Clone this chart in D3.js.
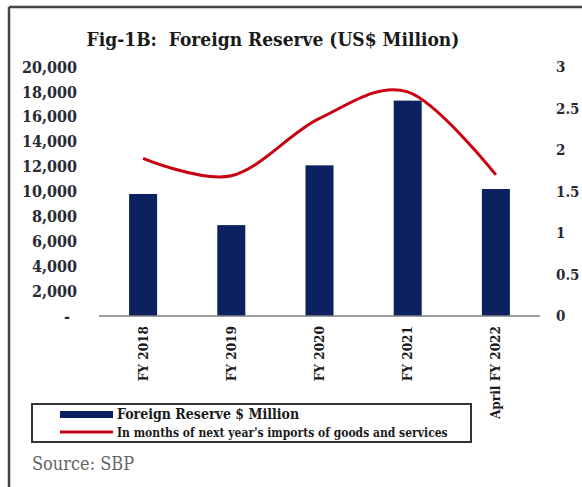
<html>
<head>
    <meta charset="utf-8">
    <script src="https://d3js.org/d3.v7.min.js"></script>
    <title>Fig-1B</title>
    <style>
        body { margin: 0; background: #fff; }
        text { font-family: "DejaVu Serif Condensed", "DejaVu Serif", serif; white-space: pre; }
    </style>
</head>
<body>
    <svg id="chart" width="582" height="487"></svg>
    <script>
        // data
        const years = ["FY 2018", "FY 2019", "FY 2020", "FY 2021", "April FY 2022"];
        const reserve = [9800, 7300, 12100, 17300, 10200];     // US$ million
        const months = [1.90, 1.69, 2.38, 2.70, 1.70];          // months of imports
        const leftTicks = [0, 2000, 4000, 6000, 8000, 10000, 12000, 14000, 16000, 18000, 20000];
        const rightTicks = [0, 0.5, 1, 1.5, 2, 2.5, 3];

        const svg = d3.select("#chart");

        // frame
        svg.append("line").attr("x1", 9).attr("y1", 7).attr("x2", 9).attr("y2", 487)
            .attr("stroke", "#444").attr("stroke-width", 2.5);
        svg.append("line").attr("x1", 9).attr("y1", 7).attr("x2", 582).attr("y2", 7)
            .attr("stroke", "#444").attr("stroke-width", 2.5);

        svg.append("text")
            .attr("x", 273).attr("y", 46)
            .attr("text-anchor", "middle")
            .attr("font-size", 19).attr("font-weight", "bold").attr("fill", "#1a1a1a")
            .text("Fig-1B:  Foreign Reserve (US$ Million)");

        const x = d3.scalePoint().domain(years).range([99, 540]).padding(0.5);
        const yL = d3.scaleLinear().domain([0, 20000]).range([316, 67]);
        const yR = d3.scaleLinear().domain([0, 3]).range([316, 67]);

        // left axis
        const gl = svg.append("g").attr("transform", "translate(77,0)")
            .call(d3.axisLeft(yL).tickValues(leftTicks).tickSize(0).tickPadding(0)
                .tickFormat(d => d === 0 ? "-" : d3.format(",")(d)));
        gl.select(".domain").remove();
        gl.selectAll("text").attr("font-size", 16).attr("font-weight", "bold")
            .attr("fill", "#2a2a35").attr("font-family", null)
            .attr("dx", d => d === 0 ? -7 : 0);

        // right axis
        const gr = svg.append("g").attr("transform", "translate(556,0)")
            .call(d3.axisRight(yR).tickValues(rightTicks).tickSize(0).tickPadding(0)
                .tickFormat(d => String(d)));
        gr.select(".domain").remove();
        gr.selectAll("text").attr("font-size", 15).attr("font-weight", "bold")
            .attr("fill", "#2a2a35").attr("font-family", null);

        // bars
        svg.selectAll("rect.bar")
            .data(reserve)
            .join("rect")
            .attr("class", "bar")
            .attr("x", (d, i) => x(years[i]) - 14)
            .attr("width", 28)
            .attr("y", d => yL(d))
            .attr("height", d => yL(0) - yL(d))
            .attr("fill", "#0b2160");

        // base line
        svg.append("line").attr("x1", 99).attr("x2", 540)
            .attr("y1", yL(0)).attr("y2", yL(0))
            .attr("stroke", "#7f7f7f").attr("stroke-width", 1.5);

        // smoothed line
        const line = d3.line()
            .x((d, i) => x(years[i]))
            .y(d => yR(d))
            .curve(d3.curveCardinal.tension(0));
        svg.append("path")
            .datum(months)
            .attr("d", line)
            .attr("fill", "none")
            .attr("stroke", "#c8000f")
            .attr("stroke-width", 3);

        // category labels
        svg.selectAll("text.cat")
            .data(years)
            .join("text")
            .attr("class", "cat")
            .attr("transform", d => `translate(${x(d) + 4.5},326) rotate(-90)`)
            .attr("text-anchor", "end")
            .attr("font-size", 13.5).attr("font-weight", "bold").attr("fill", "#1a1a1a")
            .text(d => d);

        // legend
        svg.append("rect").attr("x", 32).attr("y", 404).attr("width", 439).attr("height", 38)
            .attr("fill", "none").attr("stroke", "#333").attr("stroke-width", 2);
        svg.append("rect").attr("x", 60).attr("y", 411).attr("width", 53).attr("height", 7)
            .attr("fill", "#0b2160");
        svg.append("text").attr("x", 117).attr("y", 419)
            .attr("font-size", 14).attr("font-weight", "bold").attr("fill", "#1a1a1a")
            .text("Foreign Reserve $ Million");
        svg.append("line").attr("x1", 60).attr("x2", 113).attr("y1", 432).attr("y2", 432)
            .attr("stroke", "#c8000f").attr("stroke-width", 3);
        svg.append("text").attr("x", 117).attr("y", 437)
            .attr("font-size", 12).attr("font-weight", "bold").attr("fill", "#1a1a1a")
            .text("In months of next year's imports of goods and services");

        svg.append("text").attr("x", 32).attr("y", 470)
            .attr("font-size", 18).attr("fill", "#666")
            .text("Source: SBP");
    </script>
</body>
</html>
